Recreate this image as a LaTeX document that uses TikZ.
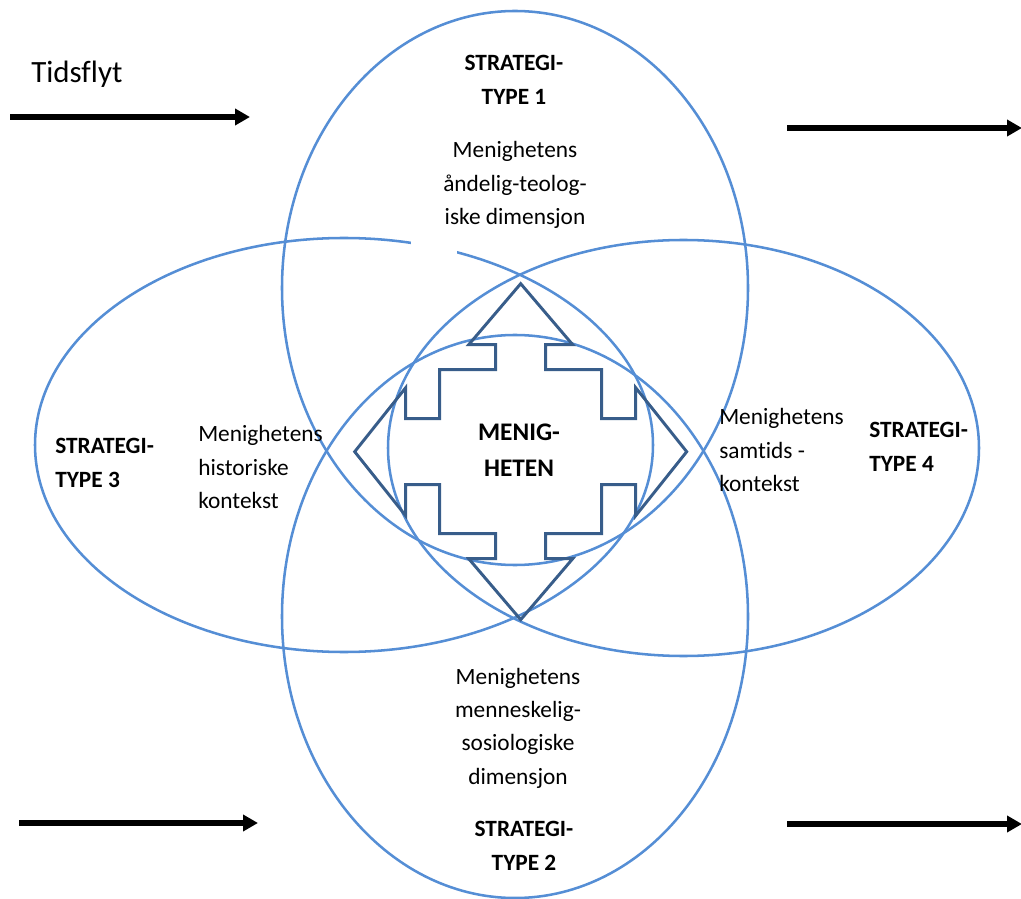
\documentclass[tikz,border=0pt]{standalone}
\usepackage{fontspec}
\setmainfont{Carlito}[Ligatures=NoCommon]
\usetikzlibrary{arrows.meta}

\definecolor{ringblue}{RGB}{85,142,213}
\definecolor{crossblue}{RGB}{56,93,138}

\begin{document}
\begin{tikzpicture}[x=0.025cm, y=-0.025cm,
        ring/.style={% For the four big ellipses
            draw=ringblue,
            line width=1.8pt,
            },
        crossline/.style={% For the arrow cross in the middle
            draw=crossblue,
            line width=2.1pt,
            line join=miter,
            },
        timearrow/.style={% For the time arrows
            line width=4.2pt,
            -{Triangle[length=10.6pt,width=11.3pt]},
            },
        typelabel/.style={% Strategy labels
            inner sep=0pt,
            font=\fontsize{16.6}{24}\selectfont\bfseries,
            },
        dimlabel/.style={% Dimension texts
            inner sep=0pt,
            font=\fontsize{16.6}{23.7}\selectfont,
            },
            ]
        \useasboundingbox (0,0) rectangle (1021,899);
        % the four strategy ellipses
        \draw[ring] (344,445) ellipse [x radius=309, y radius=207];
        \fill[white] (411,230) rectangle (457,262);
        \draw[ring] (683.5,448) ellipse [x radius=295.5, y radius=208];
        \draw[ring] (515,288) ellipse [x radius=233, y radius=277];
        \draw[ring] (515,616.5) ellipse [x radius=233, y radius=281.5];
        % the cross with four arrows
        \begin{scope}[shift={(520.7,451.7)}]
            \draw[crossline] (0,-168) -- (52,-107) -- (25,-107) -- (25,-82) -- (81,-82) -- (81,-33) -- (115,-33) -- (115,-64)
                -- (166,0) -- (115,64) -- (115,33) -- (81,33) -- (81,82) -- (25,82) -- (25,107) -- (52,107)
                -- (0,168) -- (-52,107) -- (-25,107) -- (-25,82) -- (-81,82) -- (-81,33) -- (-115,33) -- (-115,64)
                -- (-166,0) -- (-115,-64) -- (-115,-33) -- (-81,-33) -- (-81,-82) -- (-25,-82) -- (-25,-107) -- (-52,-107) -- cycle;
        \end{scope}
        % time arrows
        \coordinate (tl0) at (10,117);   \coordinate (tl1) at (250,117);
        \coordinate (tr0) at (787,128);  \coordinate (tr1) at (1022,128);
        \coordinate (bl0) at (19,823);   \coordinate (bl1) at (258,823);
        \coordinate (br0) at (787,824);  \coordinate (br1) at (1022,824);
        \draw[timearrow] (tl0) -- (tl1);
        \draw[timearrow] (tr0) -- (tr1);
        \draw[timearrow] (bl0) -- (bl1);
        \draw[timearrow] (br0) -- (br1);
        \node[font=\fontsize{22}{26}\selectfont, anchor=base west, inner sep=0pt] (tidsflyt) at (31,83) {Tidsflyt};
        % labels
        \node[typelabel, align=center] (type1) at (514,80) {STRATEGI-\\TYPE 1};
        \node[dimlabel, align=center] (dim1) at (515,185) {Menighetens\\åndelig-teolog-\\iske dimensjon};
        \node[typelabel, align=left, anchor=west] (type3) at (55,463) {STRATEGI-\\TYPE 3};
        \node[dimlabel, align=left, anchor=west] (dim3) at (198,467) {Menighetens\\historiske\\kontekst};
        \node[dimlabel, align=left, anchor=west] (dim4) at (719,450) {Menighetens\\samtids -\\kontekst};
        \node[typelabel, align=left, anchor=west] (type4) at (869,447) {STRATEGI-\\TYPE 4};
        \node[dimlabel, align=center] (dim2) at (518,728) {Menighetens\\menneskelig-\\sosiologiske\\dimensjon};
        \node[typelabel, align=center] (type2) at (524,846) {STRATEGI-\\TYPE 2};
        \node[font=\fontsize{18}{25.5}\selectfont\bfseries, align=center, inner sep=0pt] (menig) at (519,450) {MENIG-\\HETEN};
\end{tikzpicture}
\end{document}
